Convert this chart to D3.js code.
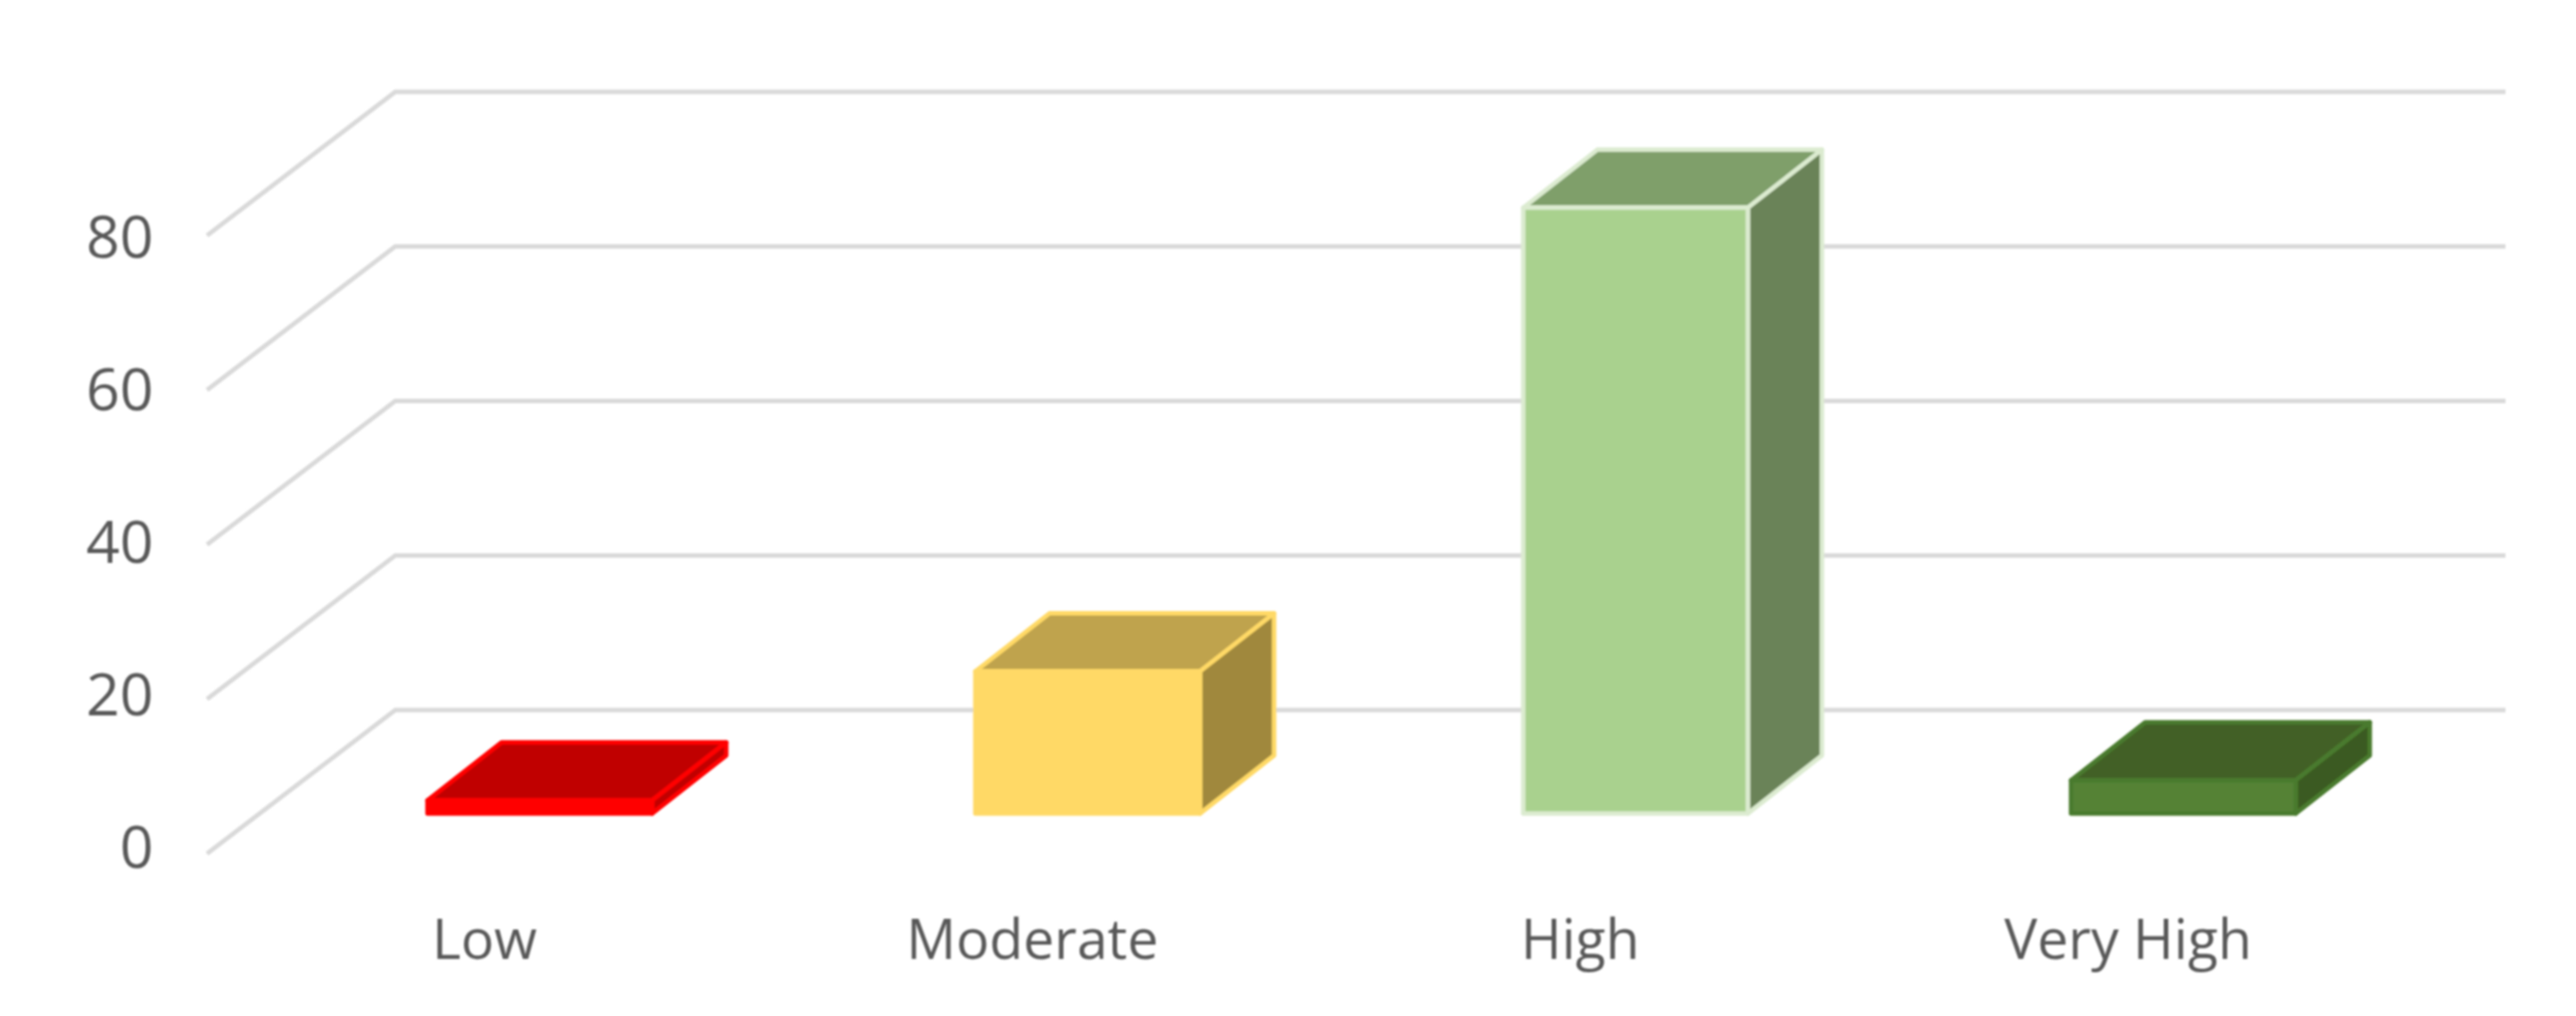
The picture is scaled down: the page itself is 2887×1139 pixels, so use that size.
<!DOCTYPE html>
<html>
<head>
<meta charset="utf-8">
<script src="https://cdn.jsdelivr.net/npm/d3@7"></script>
<style>
    html, body { margin: 0; padding: 0; background: #fff; }
    svg { display: block; }
</style>
</head>
<body>
<div id="chart"></div>
<script>
// chart data
const categories = ['Low', 'Moderate', 'High', 'Very High'];
const values = [1.7, 18.4, 78.4, 4.3];
const yTicks = [0, 20, 40, 60, 80];

// one colour per bar
const faceColors = ['#ff0000', '#ffd966', '#a9d18e', '#548235'];
const topColors = ['#c00000', '#bfa34e', '#7f9f6b', '#426128'];
const sideColors = ['#c00000', '#a0883c', '#6a8358', '#3a5a20'];
const edgeColors = ['#ff0000', '#ffd966', '#dcebd0', '#4a7a2e'];

const width = 2887;
const height = 1139;

// the 3D box: how far the back wall is shifted from the front of the floor
const wallDx = 211;
const wallDy = 161;
// bars stand part way into the floor and have their own depth
const barDx = 83;
const barDy = 65;
const barLift = 45;
const frontLeft = 232;
const wallRight = 2808;

const y = d3.scaleLinear().domain([0, 80]).range([957, 264]);
const yLabels = d3.scaleLinear().domain([0, 80]).range([951, 267]);

const x = d3.scaleBand()
    .domain(categories)
    .range([298, 2754])
    .paddingInner(0.59)
    .paddingOuter(0.295);

const svg = d3.select('#chart')
    .append('svg')
    .attr('width', width)
    .attr('height', height);

// the reference is a slightly soft screenshot
svg.append('filter')
    .attr('id', 'soft')
    .append('feGaussianBlur')
    .attr('stdDeviation', 0.9);

const chart = svg.append('g').attr('filter', 'url(#soft)');

// gridlines: run up the side wall, then along the back wall
const line = d3.line();
chart.selectAll('.grid')
    .data(yTicks)
    .enter()
    .append('path')
    .attr('class', 'grid')
    .attr('fill', 'none')
    .attr('stroke', '#d9d9d9')
    .attr('stroke-width', 5)
    .attr('d', d => line([
        [frontLeft, y(d)],
        [frontLeft + wallDx, y(d) - wallDy],
        [wallRight, y(d) - wallDy]
    ]));

// bars
const bars = chart.selectAll('.bar')
    .data(categories)
    .enter()
    .append('g')
    .attr('class', 'bar')
    .attr('stroke-width', 5)
    .attr('stroke-linejoin', 'round')
    .attr('stroke', (d, i) => edgeColors[i]);

const barLeft = d => x(d);
const barRight = d => x(d) + x.bandwidth();
const barBottom = y(0) - barLift;
const barTop = i => y(values[i]) - barLift;
const poly = points => points.map(p => p.join(',')).join(' ');

bars.append('polygon')
    .attr('fill', (d, i) => topColors[i])
    .attr('points', (d, i) => poly([
        [barLeft(d), barTop(i)],
        [barRight(d), barTop(i)],
        [barRight(d) + barDx, barTop(i) - barDy],
        [barLeft(d) + barDx, barTop(i) - barDy]
    ]));

bars.append('polygon')
    .attr('fill', (d, i) => sideColors[i])
    .attr('points', (d, i) => poly([
        [barRight(d), barTop(i)],
        [barRight(d) + barDx, barTop(i) - barDy],
        [barRight(d) + barDx, barBottom - barDy],
        [barRight(d), barBottom]
    ]));

bars.append('rect')
    .attr('fill', (d, i) => faceColors[i])
    .attr('x', d => barLeft(d))
    .attr('y', (d, i) => barTop(i))
    .attr('width', x.bandwidth())
    .attr('height', (d, i) => barBottom - barTop(i));

// axis labels
const yAxis = d3.axisLeft(yLabels)
    .tickValues(yTicks)
    .tickSize(0)
    .tickPadding(0);

const yAxisG = chart.append('g')
    .attr('transform', 'translate(172, 0)')
    .call(yAxis);
yAxisG.select('.domain').remove();
yAxisG.selectAll('text')
    .attr('font-family', '"Open Sans"')
    .attr('font-size', 66)
    .attr('fill', '#595959');

chart.selectAll('.cat')
    .data(categories)
    .enter()
    .append('text')
    .attr('class', 'cat')
    .attr('x', d => x(d) + x.bandwidth() / 2 - 62)
    .attr('y', 1075)
    .attr('text-anchor', 'middle')
    .attr('font-family', '"Open Sans"')
    .attr('font-size', 62)
    .attr('fill', '#595959')
    .text(d => d);
</script>
</body>
</html>
